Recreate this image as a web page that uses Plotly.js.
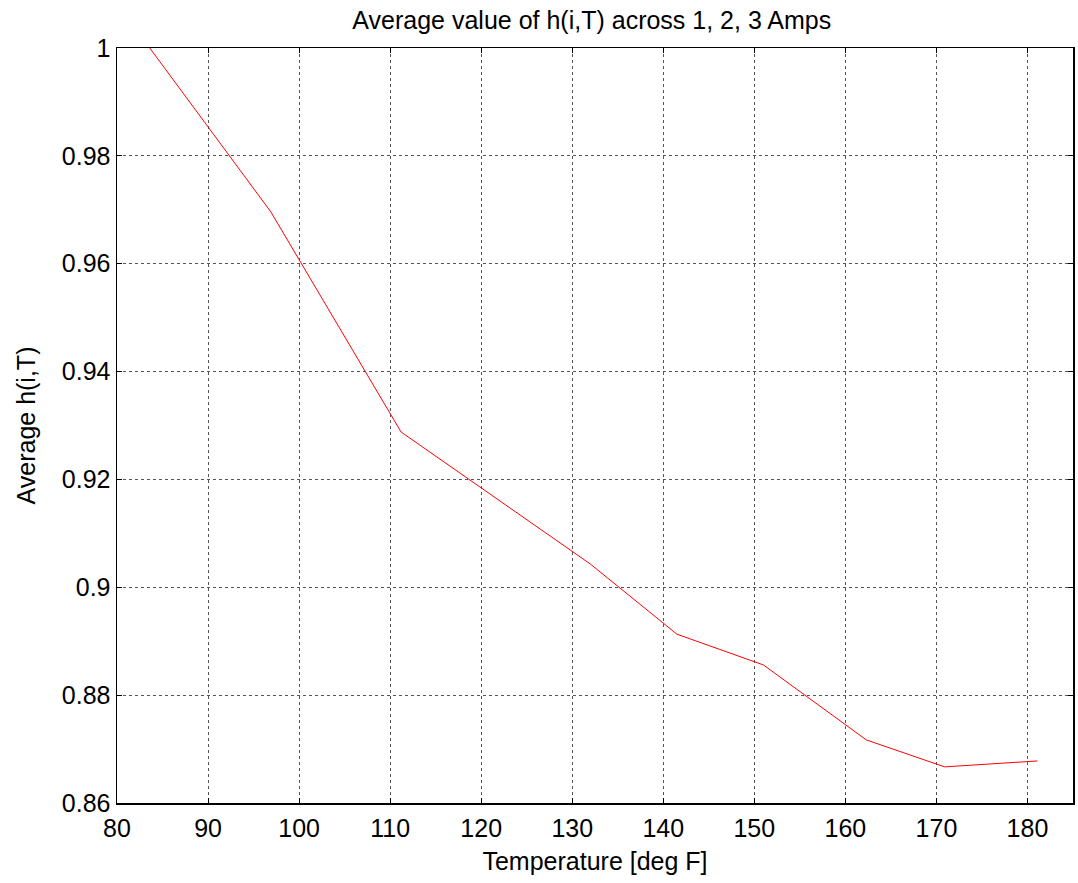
<!DOCTYPE html>
<html>
<head>
<meta charset="utf-8">
<script src="https://cdn.plot.ly/plotly-3.0.1.min.js"></script>
<style>html,body{margin:0;padding:0;background:#fff;}#chart{width:1078px;height:883px;}</style>
</head>
<body>
<div id="chart"></div>
<script>
const temperature = [83.6, 96.9, 111.2, 132.0, 141.5, 151.0, 162.3, 170.9, 181.1];
const avgH = [1.0, 0.9696, 0.9288, 0.9043, 0.8913, 0.8856, 0.8717, 0.8667, 0.8678];
const xTicks = [80, 90, 100, 110, 120, 130, 140, 150, 160, 170, 180];
const yTicks = [0.86, 0.88, 0.9, 0.92, 0.94, 0.96, 0.98, 1];
const yTickText = ['0.86', '0.88', '0.9', '0.92', '0.94', '0.96', '0.98', '1'];

const font = {family: 'Liberation Sans, Arial, sans-serif', color: '#000'};
const axisCommon = {
  showline: true, linecolor: '#000', linewidth: 1.5, mirror: 'ticks',
  ticks: 'inside', ticklen: 5, tickcolor: '#000', tickwidth: 1,
  showgrid: true, gridcolor: '#555', griddash: 'dot', gridwidth: 1,
  zeroline: false, tickfont: Object.assign({size: 25}, font)
};
Plotly.newPlot('chart', [{
  x: temperature, y: avgH, type: 'scatter', mode: 'lines',
  line: {color: '#ff0000', width: 1}
}], {
  width: 1078, height: 883,
  margin: {l: 117, r: 5, t: 48, b: 80},
  paper_bgcolor: '#fff', plot_bgcolor: '#fff',
  showlegend: false,
  title: {text: 'Average value of h(i,T) across 1, 2, 3 Amps', font: Object.assign({size: 25}, font), x: 0.549, xanchor: 'center', y: 0.977, yanchor: 'middle'},
  xaxis: Object.assign({}, axisCommon, {
    range: [80, 185], tickvals: xTicks, ticklabelstandoff: 2,
    title: {text: 'Temperature [deg F]', font: Object.assign({size: 25}, font), standoff: 12}
  }),
  yaxis: Object.assign({}, axisCommon, {
    range: [0.86, 1], tickvals: yTicks, ticktext: yTickText,
    title: {text: 'Average h(i,T)', font: Object.assign({size: 25}, font), standoff: 19}
  })
}, {displayModeBar: false, staticPlot: true});
</script>
</body>
</html>
